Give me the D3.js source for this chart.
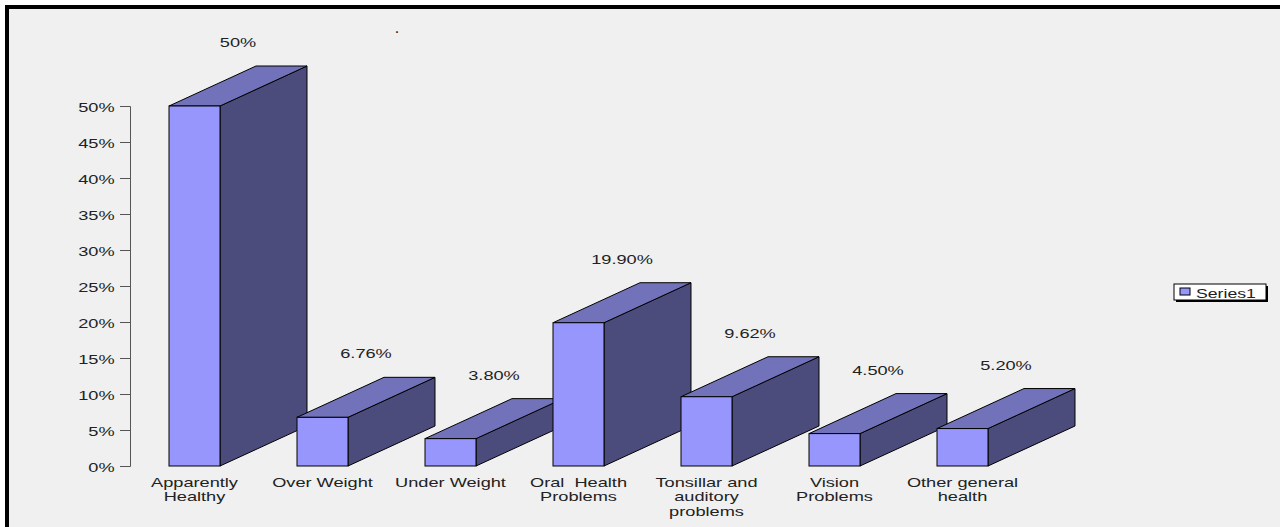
<!DOCTYPE html>
<html>
<head>
<meta charset="utf-8">
<script src="https://cdn.jsdelivr.net/npm/d3@7"></script>
<style>
  html, body { margin: 0; padding: 0; background: #fff; }
  svg { display: block; }
  text { font-family: "Liberation Sans", Arial, sans-serif; font-size: 13px; fill: #222; }
</style>
</head>
<body>
<script>
// chart data
const categories = ["Apparently\nHealthy", "Over Weight", "Under Weight", "Oral  Health\nProblems",
    "Tonsillar and\nauditory\nproblems", "Vision\nProblems", "Other general\nhealth"];
const values = [50, 6.76, 3.80, 19.90, 9.62, 4.50, 5.20];
const valueLabels = ["50%", "6.76%", "3.80%", "19.90%", "9.62%", "4.50%", "5.20%"];
const yTicks = [0, 5, 10, 15, 20, 25, 30, 35, 40, 45, 50];
const seriesName = "Series1";

const width = 1280;
const height = 527;
const stretch = 1.4;   // the original text is drawn wide
const depthX = 87, depthY = 40;

const svg = d3.select("body")
    .append("svg")
    .attr("width", width)
    .attr("height", height);

// plot area background + black frame (top / left)
svg.append("rect")
    .attr("x", 5).attr("y", 5)
    .attr("width", width - 5).attr("height", height - 5)
    .attr("fill", "#000");
svg.append("rect")
    .attr("x", 9).attr("y", 9)
    .attr("width", width - 9).attr("height", height - 9)
    .attr("fill", "#f0f0f0");

// small title placeholder
svg.append("text")
    .attr("x", 397).attr("y", 33)
    .attr("text-anchor", "middle")
    .style("font-size", "16px")
    .text(".");

// scales
const x = d3.scaleBand()
    .domain(categories)
    .range([130, 1027])
    .paddingInner(0.6016)
    .paddingOuter(0.3047);

const y = d3.scaleLinear()
    .domain([0, 50])
    .range([466, 106]);

// y axis
const yAxis = svg.append("g")
    .attr("transform", "translate(130,0)")
    .call(d3.axisLeft(y)
        .tickValues(yTicks)
        .tickSize(10)
        .tickFormat(d => d + "%"));
yAxis.select(".domain").attr("stroke", "#555");
yAxis.selectAll(".tick line").attr("stroke", "#555");
yAxis.selectAll(".tick text")
    .attr("x", -11)
    .attr("dy", "0.42em")
    .attr("transform", `scale(${stretch},1)`)
    .style("font-family", "Liberation Sans, Arial, sans-serif")
    .style("font-size", "13px")
    .attr("fill", "#222");

// 3D bars, drawn left to right so later bars cover earlier ones
const bars = svg.append("g").attr("class", "bars");
categories.forEach((c, i) => {
    const x0 = x(c), x1 = x(c) + x.bandwidth();
    const yt = y(values[i]), yb = y(0);
    const g = bars.append("g");
    // side face
    g.append("path")
        .attr("d", `M${x1},${yt} L${x1 + depthX},${yt - depthY} L${x1 + depthX},${yb - depthY} L${x1},${yb} Z`)
        .attr("fill", "#4c4c7c")
        .attr("stroke", "#000")
        .attr("stroke-width", 1);
    // top face
    g.append("path")
        .attr("d", `M${x0},${yt} L${x0 + depthX},${yt - depthY} L${x1 + depthX},${yt - depthY} L${x1},${yt} Z`)
        .attr("fill", "#7272bb")
        .attr("stroke", "#000")
        .attr("stroke-width", 1);
    // front face
    g.append("rect")
        .attr("x", x0).attr("y", yt)
        .attr("width", x.bandwidth()).attr("height", yb - yt)
        .attr("fill", "#9696fc")
        .attr("stroke", "#000")
        .attr("stroke-width", 1);
});

// value labels above each bar
svg.append("g")
    .selectAll("text")
    .data(values)
    .enter()
    .append("text")
    .attr("text-anchor", "middle")
    .attr("transform", (d, i) => {
        const cx = x(categories[i]) + x.bandwidth() / 2 + depthX / 2;
        return `translate(${cx},${y(d) - 59}) scale(${stretch},1)`;
    })
    .text((d, i) => valueLabels[i]);

// category labels
const catLabels = svg.append("g")
    .selectAll("text")
    .data(categories)
    .enter()
    .append("text")
    .attr("text-anchor", "middle")
    .attr("transform", d => `translate(${x(d) + x.bandwidth() / 2},487) scale(${stretch},1)`);
catLabels.each(function(d) {
    d.split("\n").forEach((line, k) => {
        d3.select(this).append("tspan")
            .attr("x", 0)
            .attr("y", k * 14.5)
            .style("white-space", "pre")
            .text(line);
    });
});

// legend
const legend = svg.append("g").attr("transform", "translate(1174,284)");
legend.append("rect")
    .attr("x", 2).attr("y", 2)
    .attr("width", 92).attr("height", 16)
    .attr("fill", "#000");
legend.append("rect")
    .attr("x", 0).attr("y", 0)
    .attr("width", 92).attr("height", 16)
    .attr("fill", "#fff")
    .attr("stroke", "#000")
    .attr("stroke-width", 1);
legend.append("rect")
    .attr("x", 6).attr("y", 4)
    .attr("width", 10).attr("height", 7)
    .attr("fill", "#9696fc")
    .attr("stroke", "#000")
    .attr("stroke-width", 1);
legend.append("text")
    .attr("transform", `translate(22,14) scale(${stretch * 0.97},1)`)
    .text(seriesName);
</script>
</body>
</html>
